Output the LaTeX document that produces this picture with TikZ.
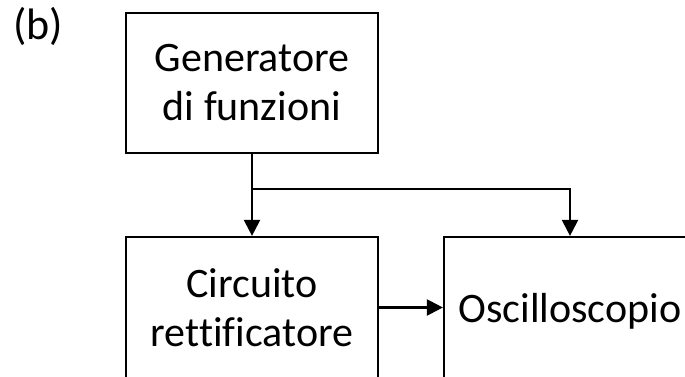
\documentclass[tikz,border=0pt]{standalone}
\usepackage{fontspec}
\setmainfont{Carlito}[Ligatures={NoCommon}]
\usetikzlibrary{arrows.meta}
\tikzset{
  blk/.style={draw=black, line width=2.2pt, minimum width=252pt, minimum height=141pt, inner sep=0pt, align=center, font=\fontsize{42}{49}\selectfont},
  topblk/.style={blk, minimum height=140pt},
  arr/.style={line width=2.2pt, -{Triangle[length=16pt,width=16pt]}},
  wire/.style={line width=2.2pt},
  lbl/.style={inner sep=0pt, font=\fontsize{44}{50}\selectfont}
}
\begin{document}
\begin{tikzpicture}[x=1pt,y=-1pt]
\useasboundingbox (0,0) rectangle (685,377);
\node[lbl, anchor=base west] (b) at (13,39.5) {(b)};
\node[topblk] (gen) at (252,83) {Generatore\\di funzioni};
\node[blk] (rett) at (252,307.5) {Circuito\\rettificatore};
\node[blk, text height=30pt, text depth=0pt] (osc) at (570,307.5) {Oscilloscopio};
\coordinate (junc) at (252,189);
\draw[wire] (gen.south) -- (junc);
\draw[arr] (junc) -- (rett.north);
\draw[arr] (junc) -| (osc.north);
\draw[arr] (rett.east) -- (osc.west);
\end{tikzpicture}
\end{document}
